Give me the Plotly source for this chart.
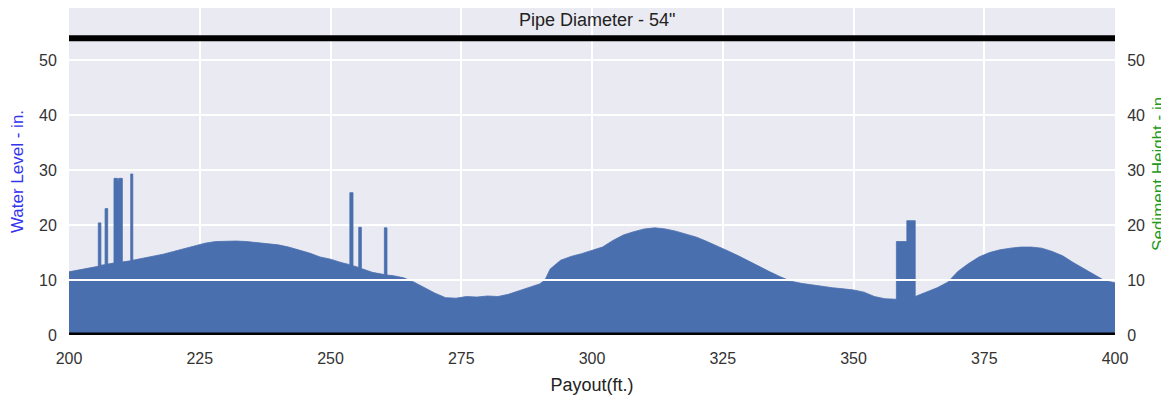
import plotly.graph_objects as go

# Payout (ft) and water level (in.)
payout = [200, 202, 204, 205.5, 205.6, 205.6, 206.1, 206.1, 206.9, 206.9, 207.4, 207.4,
          208.0, 208.6, 208.6, 209.3, 209.4, 209.5, 210.2, 210.2, 211.0, 211.8, 211.8, 212.2, 212.2,
          214, 216, 218, 220, 222, 224, 226, 228, 230, 232, 234, 236, 238, 240, 242, 244,
          246, 248, 250, 252, 253.7, 253.7, 254.3, 254.3, 255.4, 255.4, 255.9, 255.9, 258,
          260.3, 260.3, 260.8, 260.8, 262, 264, 266, 268, 270, 272, 274, 276, 278, 280, 282,
          284, 286, 288, 290, 291, 292, 294, 296, 298, 300, 302, 304, 306, 308, 310, 312, 314,
          316, 318, 320, 322, 324, 326, 328, 330, 332, 334, 336, 338, 340, 342, 344, 346, 348,
          350, 352, 354, 356, 358.2, 358.2, 360.2, 360.2, 361.8, 361.8, 364, 366, 368, 370,
          372, 374, 376, 378, 380, 382, 384, 386, 388, 390, 392, 394, 396, 398, 400]
water_level = [11.5, 11.9, 12.3, 12.5, 12.5, 20.4, 20.4, 12.7, 12.8, 23.0, 23.0, 12.9,
               13.0, 13.1, 28.5, 28.5, 27.8, 28.5, 28.5, 13.3, 13.4, 13.5, 29.3, 29.3, 13.6,
               13.9, 14.3, 14.7, 15.2, 15.7, 16.2, 16.7, 17.0, 17.1, 17.1, 17.0, 16.8, 16.6, 16.4, 16.0, 15.5,
               14.9, 14.2, 13.8, 13.2, 12.8, 25.9, 25.9, 12.6, 12.3, 19.6, 19.6, 12.1, 11.4,
               11.0, 19.5, 19.5, 10.9, 10.8, 10.4, 9.6, 8.6, 7.6, 6.8, 6.7, 7.0, 6.9, 7.1, 7.0,
               7.4, 8.0, 8.6, 9.3, 10.0, 12.0, 13.6, 14.3, 14.8, 15.4, 16.0, 17.2, 18.2, 18.8, 19.3, 19.5, 19.3,
               18.9, 18.3, 17.8, 17.0, 16.2, 15.3, 14.4, 13.4, 12.4, 11.5, 10.6, 9.8, 9.4, 9.1, 8.8, 8.6, 8.4,
               8.2, 7.8, 7.0, 6.6, 6.5, 17.0, 17.0, 20.8, 20.8, 7.0, 7.9, 8.6, 9.6, 11.6,
               13.0, 14.2, 15.0, 15.5, 15.8, 16.0, 16.0, 15.8, 15.2, 14.4, 13.2, 12.1, 11.0, 9.9, 9.5]

pipe_diameter = 54
x_ticks = [200, 225, 250, 275, 300, 325, 350, 375, 400]
y_ticks = [0, 10, 20, 30, 40, 50]

fig = go.Figure()
fig.add_trace(go.Scatter(
    x=payout, y=water_level, mode="lines", fill="tozeroy",
    line=dict(color="#4a6fae", width=0.8), fillcolor="#4a6fae",
    showlegend=False, hoverinfo="x+y"))
fig.add_trace(go.Scatter(x=[200, 400], y=[None, None], yaxis="y2",
                         mode="lines", showlegend=False, hoverinfo="skip"))

font = "Liberation Sans, Arial, sans-serif"
fig.update_layout(
    width=1161, height=393,
    margin=dict(l=61, r=54, t=0, b=66),
    paper_bgcolor="white", plot_bgcolor="#eaeaf2",
    font=dict(family=font, size=16, color="#333333"),
    xaxis=dict(range=[200, 400], tickvals=x_ticks, showgrid=True, gridcolor="white",
               gridwidth=2, zeroline=False, ticks="outside", ticklen=9,
               tickcolor="rgba(0,0,0,0)", showline=False, automargin=False,
               title=dict(text="Payout(ft.)", font=dict(size=18, color="#222222"), standoff=12),
               tickfont=dict(size=16)),
    yaxis=dict(range=[0, 59.5], tickvals=y_ticks, showgrid=True, gridcolor="white",
               gridwidth=2, zeroline=False, ticks="outside", ticklen=8,
               tickcolor="rgba(0,0,0,0)", showline=False, automargin=False,
               title=dict(text="Water Level - in.", font=dict(size=17, color="#3333ee"), standoff=12),
               tickfont=dict(size=16)),
    yaxis2=dict(range=[0, 59.5], tickvals=y_ticks, overlaying="y", side="right",
                showgrid=False, zeroline=False, ticks="outside", ticklen=8,
                tickcolor="rgba(0,0,0,0)", showline=False, automargin=False,
                title=dict(text="Sediment Height - in.", font=dict(size=17, color="#229922"), standoff=8),
                tickfont=dict(size=16)),
    shapes=[
        dict(type="line", xref="x", yref="y", x0=200, x1=400, y0=10, y1=10,
             line=dict(color="white", width=2), layer="above"),
        dict(type="line", xref="x", yref="y", x0=200, x1=400, y0=pipe_diameter, y1=pipe_diameter,
             line=dict(color="black", width=6), layer="above"),
        dict(type="line", xref="x", yref="y", x0=200, x1=400, y0=0, y1=0,
             line=dict(color="black", width=5), layer="above"),
    ],
    annotations=[
        dict(text='Pipe Diameter - 54"', xref="paper", yref="y", x=0.505, y=57.3,
             showarrow=False, font=dict(size=18, color="#222222"), yanchor="middle"),
    ],
)

fig.write_html("out.html")
